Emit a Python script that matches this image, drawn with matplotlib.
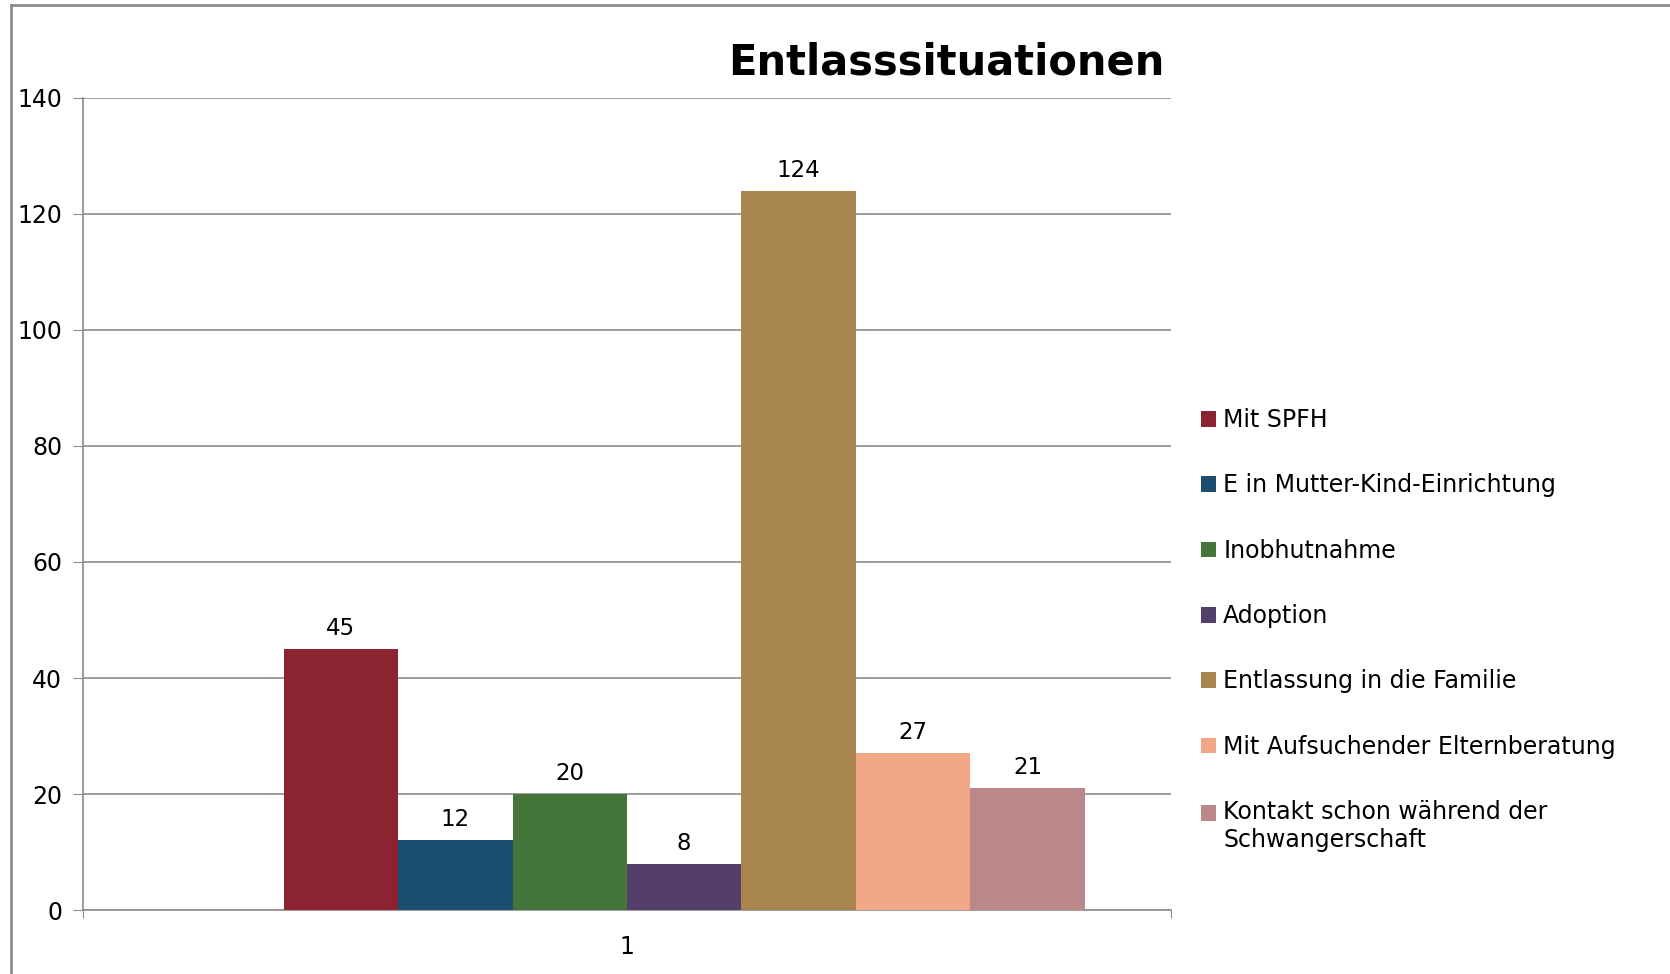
import numpy as np
import matplotlib
matplotlib.use("Agg")
import matplotlib.pyplot as plt
from matplotlib.lines import Line2D
from matplotlib.legend_handler import HandlerPatch, update_from_first_child

# dados do grafico
kategorien = ["Mit SPFH", "E in Mutter-Kind-Einrichtung", "Inobhutnahme", "Adoption",
              "Entlassung in die Familie", "Mit Aufsuchender Elternberatung",
              "Kontakt schon während der\nSchwangerschaft"]
werte = [45, 12, 20, 8, 124, 27, 21]
farben = ["#8B2330", "#1A4E6E", "#44763A", "#533F6A", "#A9864F", "#F2A886", "#BB8889"]
titel = "Entlasssituationen"
x_label = ["1"]

plt.rcParams["font.family"] = ["DejaVu Sans"]
cinza = "#8c8c8c"


# quadrado da legenda alinhado com a primeira linha do texto
class HandlerOben(HandlerPatch):
    def create_artists(self, legend, orig_handle, xdescent, ydescent, width, height, fontsize, trans):
        arts = super().create_artists(legend, orig_handle, xdescent, ydescent, width, height, fontsize, trans)
        for a in arts:
            a.set_y(a.get_y() + 0.6 * fontsize)
        return arts


fig = plt.figure(figsize=(16.70, 9.74), dpi=100)
ax = fig.add_axes([0.0497, 0.0657, 0.6515, 0.8337])

# barras agrupadas (a categoria "1" fica entre a 3a e a 4a barra, como no original)
w = 0.1052
barras = []
for i, (nome, v, c) in enumerate(zip(kategorien, werte, farben)):
    esq = 1 + (i - 3) * w
    b = ax.bar(esq, v, width=w, align="edge", color=c, label=nome, zorder=3)
    ax.bar_label(b, labels=[str(v)], padding=6.5, fontsize=16.5)
    barras.append(b)

ax.set_xlim(0.5, 1.5)
ax.set_ylim(0, 140)
ax.set_yticks(np.arange(0, 141, 20))
ax.set_xticks([0.5, 1.5])
ax.set_xticklabels(["", ""])
ax.set_xticks([1], minor=True)
ax.set_xticklabels(x_label, minor=True)
ax.tick_params(axis="x", which="minor", length=0, pad=18, labelsize=17)
ax.tick_params(axis="x", which="major", length=6, color=cinza, direction="out")
ax.tick_params(axis="y", length=7, color=cinza, direction="out", pad=8, labelsize=17)

ax.grid(axis="y", color=cinza, linewidth=1.2, zorder=0)
for s in ["top", "right"]:
    ax.spines[s].set_visible(False)
for s in ["left", "bottom"]:
    ax.spines[s].set_color(cinza)
    ax.spines[s].set_linewidth(1.2)

fig.text(0.5665, 0.936, titel, fontsize=30, fontweight="bold", ha="center", va="center")

leg = ax.legend(loc="upper left", bbox_to_anchor=(0.719, 0.581), bbox_transform=fig.transFigure,
                frameon=False, fontsize=17, handlelength=0.65, handleheight=0.65,
                handletextpad=0.3, labelspacing=1.75, borderpad=0, borderaxespad=0,
                handler_map={barras[-1]: HandlerOben(update_func=update_from_first_child)})

# moldura externa (so aparecem a esquerda e em cima)
fig.add_artist(Line2D([11 / 1670, 11 / 1670], [0, 1 - 5 / 974], color=cinza, linewidth=2))
fig.add_artist(Line2D([11 / 1670, 1], [1 - 5 / 974, 1 - 5 / 974], color=cinza, linewidth=2))

fig.savefig("out.png", dpi=100)
